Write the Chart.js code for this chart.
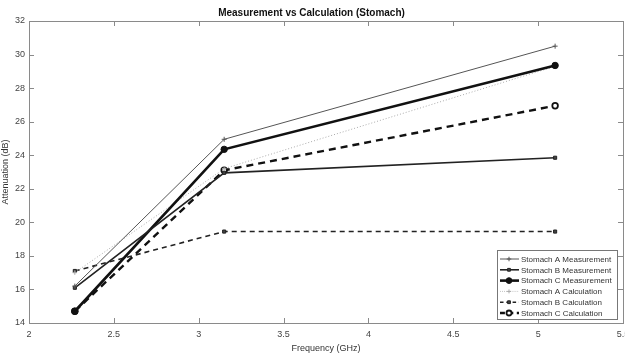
<!DOCTYPE html>
<html>
<head>
<meta charset="utf-8">
<script src="https://cdn.jsdelivr.net/npm/chart.js@4/dist/chart.umd.min.js"></script>
<style>
  html, body { margin: 0; padding: 0; background: #fff; }
  #wrap { width: 625px; height: 356px; }
</style>
</head>
<body>
<div id="wrap"><canvas id="chart"></canvas></div>
<script>
const freqs = [2.27, 3.15, 5.1];
const seriesNames = [
  'Stomach A Measurement',
  'Stomach B Measurement',
  'Stomach C Measurement',
  'Stomach A Calculation',
  'Stomach B Calculation',
  'Stomach C Calculation',
];
const aMeas = [16.2, 24.95, 30.5];
const bMeas = [16.1, 22.95, 23.85];
const cMeas = [14.7, 24.35, 29.35];
const aCalc = [17.0, 23.2, 29.3];
const bCalc = [17.1, 19.45, 19.45];
const cCalc = [14.7, 23.1, 26.95];
const xTicks = [2, 2.5, 3, 3.5, 4, 4.5, 5, 5.5];
const yTicks = [14, 16, 18, 20, 22, 24, 26, 28, 30, 32];

const toPts = (vals) => vals.map((v, i) => ({ x: freqs[i], y: v }));

const styles = [
  { color: '#555', width: 1, dash: [], point: 'cross', radius: 2.5, fill: '#555' },
  { color: '#222', width: 1.6, dash: [], point: 'rect', radius: 2.2, fill: '#444' },
  { color: '#111', width: 2.6, dash: [], point: 'circle', radius: 3.2, fill: '#111' },
  { color: '#aaa', width: 1, dash: [1, 2], point: 'cross', radius: 2.2, fill: '#aaa' },
  { color: '#222', width: 1.6, dash: [5, 4], point: 'rect', radius: 2.2, fill: '#444' },
  { color: '#111', width: 2.4, dash: [7, 5], point: 'circle', radius: 2.8, fill: '#fff' },
];

const allVals = [aMeas, bMeas, cMeas, aCalc, bCalc, cCalc];
const datasets = allVals.map((vals, i) => ({
  label: seriesNames[i],
  data: toPts(vals),
  borderColor: styles[i].color,
  borderWidth: styles[i].width,
  borderDash: styles[i].dash,
  pointStyle: styles[i].point,
  pointRadius: styles[i].radius,
  pointBorderColor: styles[i].color,
  pointBackgroundColor: styles[i].fill,
  pointBorderWidth: i === 5 ? 1.8 : 1,
  tension: 0,
}));

// box, inner ticks and legend drawn the matlab way
const frame = {
  id: 'frame',
  afterDatasetsDraw(chart) {
    const { ctx, chartArea: a, scales } = chart;
    ctx.save();
    ctx.strokeStyle = '#8a8a8a';
    ctx.lineWidth = 1;
    ctx.strokeRect(Math.round(a.left) + 0.5, Math.round(a.top) + 0.5,
      Math.round(a.right - a.left), Math.round(a.bottom - a.top));
    ctx.beginPath();
    xTicks.forEach(t => {
      const x = Math.round(scales.x.getPixelForValue(t)) + 0.5;
      ctx.moveTo(x, a.bottom); ctx.lineTo(x, a.bottom - 5);
      ctx.moveTo(x, a.top); ctx.lineTo(x, a.top + 5);
    });
    yTicks.forEach(t => {
      const y = Math.round(scales.y.getPixelForValue(t)) + 0.5;
      ctx.moveTo(a.left, y); ctx.lineTo(a.left + 5, y);
      ctx.moveTo(a.right, y); ctx.lineTo(a.right - 5, y);
    });
    ctx.stroke();

    // legend
    const lx = 497, ly = 250, lw = 120, lh = 69;
    ctx.fillStyle = '#fff';
    ctx.fillRect(lx, ly, lw, lh);
    ctx.strokeStyle = '#777';
    ctx.strokeRect(lx + 0.5, ly + 0.5, lw, lh);
    ctx.font = '8px "Liberation Sans", Arial, sans-serif';
    ctx.textBaseline = 'middle';
    chart.data.datasets.forEach((ds, i) => {
      const y = ly + 9 + i * 10.8;
      ctx.save();
      ctx.strokeStyle = ds.borderColor;
      ctx.lineWidth = ds.borderWidth;
      ctx.setLineDash(ds.borderDash.length ? ds.borderDash.map(d => d * 0.7) : []);
      ctx.beginPath();
      ctx.moveTo(lx + 3, y); ctx.lineTo(lx + 22, y);
      ctx.stroke();
      ctx.setLineDash([]);
      ctx.fillStyle = ds.pointBackgroundColor;
      ctx.lineWidth = ds.pointBorderWidth;
      Chart.helpers.drawPoint(ctx, { pointStyle: ds.pointStyle, radius: ds.pointRadius * 0.9, rotation: 0, borderWidth: ds.pointBorderWidth }, lx + 12, y);
      ctx.restore();
      ctx.fillStyle = '#333';
      ctx.fillText(ds.label, lx + 24, y + 0.5);
    });
    ctx.restore();
  }
};

const fmt = v => String(v);

new Chart(document.getElementById('chart'), {
  type: 'line',
  data: { datasets },
  options: {
    responsive: true,
    maintainAspectRatio: false,
    animation: false,
    layout: { autoPadding: false, padding: { left: 0, right: 2, top: 0, bottom: 0 } },
    plugins: {
      legend: { display: false },
      tooltip: { enabled: false },
      title: {
        display: true,
        text: 'Measurement vs Calculation (Stomach)',
        color: '#111',
        font: { family: '"Liberation Sans", Arial, sans-serif', size: 10, weight: 'bold' },
        padding: { top: 7, bottom: 2 },
      },
    },
    scales: {
      x: {
        type: 'linear',
        min: 2, max: 5.5,
        grid: { display: false, drawTicks: false },
        border: { display: false },
        afterBuildTicks: s => { s.ticks = xTicks.map(v => ({ value: v })); },
        ticks: {
          color: '#444', padding: 6,
          font: { family: '"Liberation Sans", Arial, sans-serif', size: 9 },
          maxRotation: 0, autoSkip: false,
          callback: fmt,
        },
        title: {
          display: true, text: 'Frequency (GHz)', color: '#333', padding: { top: 2, bottom: 2 },
          font: { family: '"Liberation Sans", Arial, sans-serif', size: 9 },
        },
        afterFit: s => { s.height = 33; s.paddingLeft = 0; s.paddingRight = 0; },
      },
      y: {
        min: 14, max: 32,
        grid: { display: false, drawTicks: false },
        border: { display: false },
        afterBuildTicks: s => { s.ticks = yTicks.map(v => ({ value: v })); },
        ticks: {
          color: '#444', padding: 4,
          font: { family: '"Liberation Sans", Arial, sans-serif', size: 9 },
          callback: fmt,
        },
        title: {
          display: true, text: 'Attenuation (dB)', color: '#333', padding: { top: 0, bottom: 0 },
          font: { family: '"Liberation Sans", Arial, sans-serif', size: 9 },
        },
        afterFit: s => { s.width = 29; },
      },
    },
  },
  plugins: [frame],
});
</script>
</body>
</html>
